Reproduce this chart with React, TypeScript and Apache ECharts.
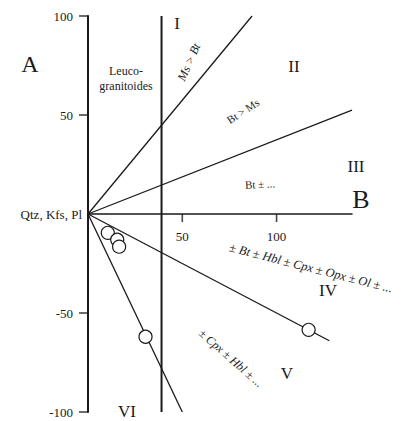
import React, { useEffect, useRef } from "react";
import * as echarts from "echarts";

const xTicks = [50, 100];
const yTicks = [-100, -50, 50, 100];
const leucoLimitX = 39;
const lineMsBt = [[0, 0], [87, 100]];
const lineBtMs = [[0, 0], [140, 52.5]];
const lineIVV = [[0, 0], [128, -64]];
const lineVVI = [[0, 0], [50, -100]];
const samples = [[10.5, -9.5], [15.5, -13], [16.5, -16.5], [117, -58.5], [30.5, -62]];

const serif = "Liberation Serif, DejaVu Serif, serif";

export default function App() {
  const ref = useRef<HTMLDivElement>(null);
  useEffect(() => {
    const chart = echarts.init(ref.current!, null, { renderer: "svg" });
    const lineSeries = (data: number[][], width = 1.3) => ({
      type: "line",
      data,
      showSymbol: false,
      silent: true,
      lineStyle: { color: "#1a1a1a", width },
      z: 2,
    });
    const txt = (text: string, x: number, y: number, size: number, rot = 0, italic = false, align = "center") => ({
      type: "text",
      x,
      y,
      rotation: rot,
      style: {
        text,
        fill: "#1a1a1a",
        fontFamily: serif,
        fontSize: size,
        fontStyle: italic ? "italic" : "normal",
        textAlign: align,
        textVerticalAlign: "middle",
      },
      z: 10,
    });
    chart.setOption({
      animation: false,
      backgroundColor: "#ffffff",
      grid: { left: 88, top: 16, width: 264, height: 396 },
      xAxis: {
        type: "value",
        min: 0,
        max: 140,
        interval: 50,
        position: "bottom",
        offset: -198,
        axisLine: { onZero: false, lineStyle: { color: "#1a1a1a", width: 1.5 } },
        axisTick: { show: false },
        axisLabel: {
          color: "#1a1a1a",
          fontFamily: serif,
          fontSize: 13,
          margin: 16,
          formatter: (v: number) => (xTicks.includes(v) ? String(v) : ""),
        },
        splitLine: { show: false },
      },
      yAxis: {
        type: "value",
        min: -100,
        max: 100,
        interval: 50,
        axisLine: { show: true, onZero: false, lineStyle: { color: "#1a1a1a", width: 2 } },
        axisTick: { show: false },
        axisLabel: {
          color: "#1a1a1a",
          fontFamily: serif,
          fontSize: 13,
          margin: 15,
          formatter: (v: number) => (yTicks.includes(v) ? String(v) : ""),
        },
        splitLine: { show: false },
      },
      series: [
        lineSeries([[leucoLimitX, -100], [leucoLimitX, 100]], 2),
        lineSeries(lineMsBt),
        lineSeries(lineBtMs),
        lineSeries(lineIVV),
        lineSeries(lineVVI),
        {
          type: "scatter",
          data: xTicks.map((v) => [v, 0]),
          symbol: "rect",
          symbolSize: [1.6, 8],
          symbolOffset: [0, 4],
          silent: true,
          clip: false,
          itemStyle: { color: "#1a1a1a" },
          z: 3,
        },
        {
          type: "scatter",
          data: yTicks.map((v) => [0, v]),
          symbol: "rect",
          symbolSize: [9, 1.6],
          symbolOffset: [-4.5, 0],
          silent: true,
          clip: false,
          itemStyle: { color: "#1a1a1a" },
          z: 3,
        },
        {
          type: "scatter",
          data: samples,
          symbol: "circle",
          symbolSize: 13,
          itemStyle: { color: "#ffffff", borderColor: "#1a1a1a", borderWidth: 1.2, opacity: 1 },
          z: 5,
        },
      ],
      graphic: [
        txt("A", 30, 64, 24),
        txt("I", 177, 23, 17),
        txt("Ms > Bt", 189, 62, 12, 1.15, true),
        txt("Leuco-", 126, 71, 12),
        txt("granitoides", 126, 86, 12),
        txt("II", 294, 66, 17),
        txt("Bt > Ms", 243, 111, 11, 0.58),
        txt("III", 356, 166, 17),
        txt("B", 361, 199, 26),
        txt("Bt ± ...", 260, 184, 11, 0.05),
        txt("Qtz, Kfs, Pl", 82, 214, 13, 0, false, "right"),
        txt("± Bt ± Hbl ± Cpx ± Opx ± Ol ± ...", 311, 268, 12.5, -0.25, true),
        txt("IV", 328, 290, 17),
        txt("V", 287, 373, 17),
        txt("± Cpx ± Hbl ± ...", 231, 358, 12, -0.72, true),
        txt("VI", 127, 411, 17),
      ],
    });
    return () => chart.dispose();
  }, []);
  return <div ref={ref} style={{ position: "fixed", left: 0, top: 0, width: 403, height: 421 }} />;
}
